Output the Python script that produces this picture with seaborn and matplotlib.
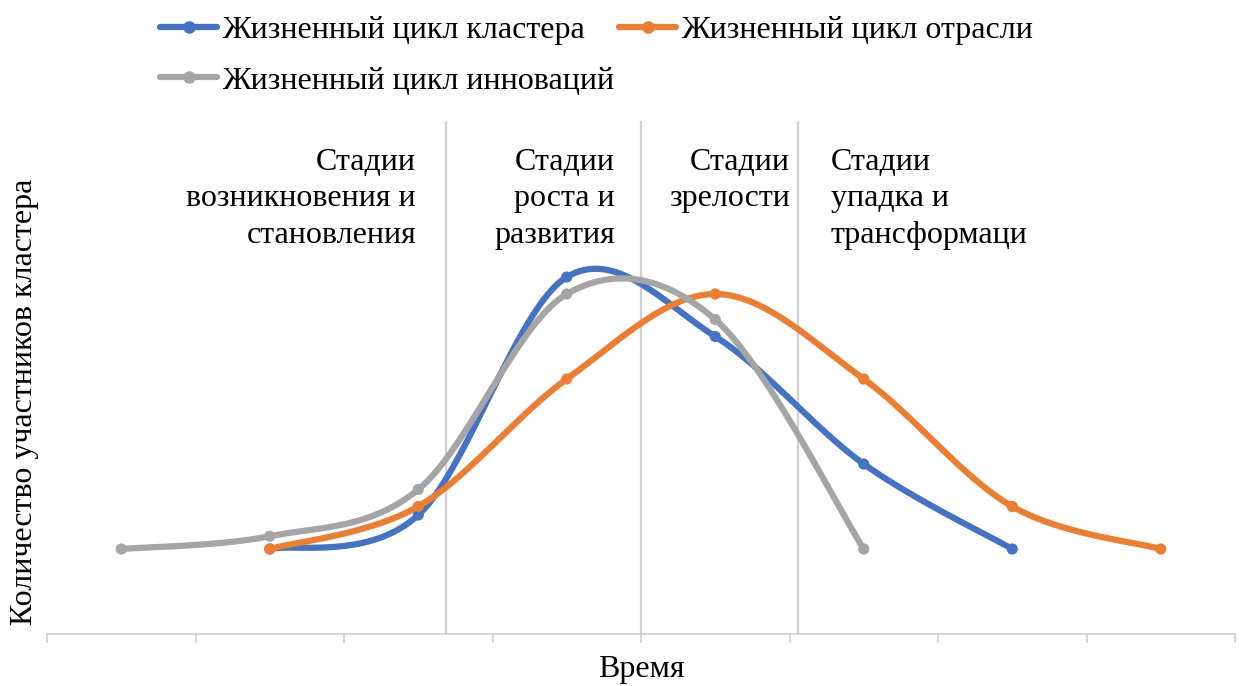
import numpy as np
import pandas as pd
import matplotlib
matplotlib.use("Agg")
import matplotlib.pyplot as plt
from matplotlib.lines import Line2D
import seaborn as sns

# Time periods (category axis, unlabeled)
periods = list(range(8))

# Series values: index of the period where each series starts, then its values
cluster_start = 1
cluster_vals = [1.0, 1.4, 4.2, 3.5, 2.0, 1.0]
industry_start = 1
industry_vals = [1.0, 1.5, 3.0, 4.0, 3.0, 1.5, 1.0]
innov_start = 0
innov_vals = [1.0, 1.15, 1.7, 4.0, 3.7, 1.0]

series_names = ["Жизненный цикл кластера", "Жизненный цикл отрасли", "Жизненный цикл инноваций"]
series_colors = ["#4472C4", "#ED7D31", "#A5A5A5"]

# Stage boundaries (in period units) and stage captions
stage_bounds = [2.19, 3.5, 4.56]
stage_labels = ["Стадии\nвозникновения и\nстановления",
                "Стадии\nроста и\nразвития",
                "Стадии\nзрелости",
                "Стадии\nупадка и\nтрансформаци"]

x_label = "Время"
y_label = "Количество участников кластера"


def smooth(xs, ys, n=40):
    """Catmull-Rom style cubic Bezier smoothing through the points."""
    P = np.column_stack([xs, ys]).astype(float)
    out = []
    m = len(P)
    for i in range(m - 1):
        p0 = P[i - 1] if i > 0 else P[i]
        p1 = P[i]
        p2 = P[i + 1]
        p3 = P[i + 2] if i + 2 < m else P[i + 1]
        c1 = p1 + (p2 - p0) / 6.0
        c2 = p2 - (p3 - p1) / 6.0
        t = np.linspace(0, 1, n)[:, None]
        seg = ((1 - t) ** 3) * p1 + 3 * ((1 - t) ** 2) * t * c1 + 3 * (1 - t) * t ** 2 * c2 + t ** 3 * p2
        out.append(seg if i == 0 else seg[1:])
    s = np.vstack(out)
    return s[:, 0], s[:, 1]


sns.set_theme(style="white")
plt.rcParams["font.family"] = ["Liberation Serif", "DejaVu Serif"]
plt.rcParams["text.color"] = "black"

fig = plt.figure(figsize=(12.43, 6.86), dpi=100)
ax = fig.add_axes([47 / 1243, 52 / 686, 1188 / 1243, 510 / 686])

series = [(cluster_start, cluster_vals), (industry_start, industry_vals), (innov_start, innov_vals)]
for k in range(3):
    start, vals = series[k]
    xs = [periods[start + j] for j in range(len(vals))]
    sx, sy = smooth(xs, vals)
    df = pd.DataFrame({"x": sx, "y": sy})
    sns.lineplot(data=df, x="x", y="y", sort=False, estimator=None, ax=ax,
                 color=series_colors[k], linewidth=4.5, solid_capstyle="round", zorder=3 + k)
    pts = pd.DataFrame({"x": xs, "y": vals})
    sns.scatterplot(data=pts, x="x", y="y", ax=ax, color=series_colors[k], s=65,
                    edgecolor="none", zorder=3.5 + k)

for b in stage_bounds:
    ax.axvline(b, color="#D0D0D0", linewidth=1.6, zorder=1, ymax=1.004, clip_on=False)

ax.set_xlim(-0.5, 7.5)
ax.set_ylim(0, 6)
ax.set_xticks(np.arange(-0.5, 8, 1))
ax.set_xticklabels([])
ax.set_yticks([])
ax.tick_params(axis="x", direction="out", length=6.5, width=1.2, color="#D0D0D0", bottom=True)
for side in ["left", "right", "top"]:
    ax.spines[side].set_visible(False)
ax.spines["bottom"].set_color("#D0D0D0")
ax.spines["bottom"].set_linewidth(1.2)
ax.set_xlabel("")
ax.set_ylabel("")

fs = 23
fig.text(641 / 1243, 1 - 670 / 686, x_label, ha="center", va="center", fontsize=fs, color="black")
fig.text(25 / 1243, 1 - 402 / 686, y_label, ha="center", va="center", rotation=90, fontsize=fs, color="black")

# Stage captions
cap = [(416, "right"), (615, "right"), (790, "right"), (831, "left")]
for (px, ha), txt in zip(cap, stage_labels):
    fig.text(px / 1243, 1 - 148 / 686, txt, ha=ha, va="top", fontsize=fs,
             color="black", linespacing=1.33, multialignment=ha)

# Legend
handles = [Line2D([0], [0], color=c, linewidth=4.5, marker="o", markersize=8,
                  solid_capstyle="round") for c in series_colors]
order = [0, 2, 1]
leg = fig.legend([handles[i] for i in order], [series_names[i] for i in order],
                 ncol=2, loc="upper left", bbox_to_anchor=(147 / 1243, 1 - 3 / 686),
                 frameon=False, fontsize=fs, handlelength=1.8, handletextpad=0.15,
                 columnspacing=0.15, labelspacing=0.66, numpoints=1, borderaxespad=0)
for t in leg.get_texts():
    t.set_color("black")

fig.savefig("out.png", dpi=100, facecolor="white")
